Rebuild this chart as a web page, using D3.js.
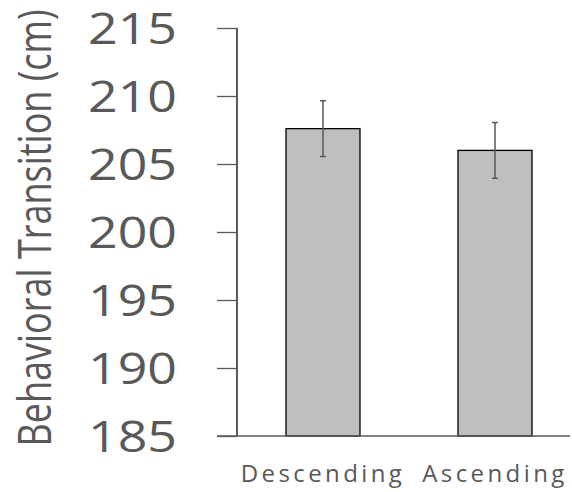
<!DOCTYPE html>
<html>
<head>
<meta charset="utf-8">
<script src="https://cdn.jsdelivr.net/npm/d3@7"></script>
<style>
  body { margin: 0; background: #fff; }
  svg { display: block; }
</style>
</head>
<body>
<div id="chart"></div>
<script>
// Data
const categories = ['Descending', 'Ascending'];
const means = [207.6, 206.0];
const errors = [2.05, 2.05];
const yTicks = [185, 190, 195, 200, 205, 210, 215];

// Dimensions
const W = 572, H = 492;
const margin = { top: 28, right: -9, bottom: 56, left: 237 };
const width = W - margin.left - margin.right;
const height = H - margin.top - margin.bottom;

const data = categories.map((c, i) => ({ cat: c, mean: means[i], err: errors[i] }));

// Scales
const x = d3.scaleBand().domain(categories).range([0, width]).paddingInner(0.57).paddingOuter(0.285);
const y = d3.scaleLinear().domain([185, 215]).range([height, 0]);

const svg = d3.select('#chart').append('svg')
    .attr('width', W)
    .attr('height', H);

const g = svg.append('g')
    .attr('transform', `translate(${margin.left},${margin.top})`);

// Y axis
const yAxis = g.append('g')
    .call(d3.axisLeft(y).tickValues(yTicks).tickSize(20).tickPadding(40));
yAxis.select('.domain').attr('stroke', '#000').attr('stroke-width', 1.3)
    .attr('d', `M0,${height}V0`);
yAxis.selectAll('.tick line').attr('stroke', '#595959').attr('stroke-width', 1.3);
yAxis.selectAll('.tick text')
    .attr('fill', '#595959')
    .attr('dy', '0.36em')
    .attr('textLength', 89)
    .attr('lengthAdjust', 'spacingAndGlyphs')
    .style('font-family', '"Open Sans", sans-serif')
    .style('font-size', '44px');

// Bars
g.selectAll('.bar')
    .data(data)
    .enter().append('rect')
    .attr('class', 'bar')
    .attr('x', d => x(d.cat))
    .attr('y', d => y(d.mean))
    .attr('width', x.bandwidth())
    .attr('height', d => height - y(d.mean))
    .attr('fill', '#bfbfbf')
    .attr('stroke', '#000')
    .attr('stroke-width', 1.3);

// Error bars
const eb = g.selectAll('.err')
    .data(data)
    .enter().append('g')
    .attr('class', 'err')
    .attr('stroke', '#595959')
    .attr('stroke-width', 1.5);
eb.append('line')
    .attr('x1', d => x(d.cat) + x.bandwidth() / 2)
    .attr('x2', d => x(d.cat) + x.bandwidth() / 2)
    .attr('y1', d => y(d.mean + d.err))
    .attr('y2', d => y(d.mean - d.err));
eb.append('line')
    .attr('x1', d => x(d.cat) + x.bandwidth() / 2 - 3)
    .attr('x2', d => x(d.cat) + x.bandwidth() / 2 + 3)
    .attr('y1', d => y(d.mean + d.err))
    .attr('y2', d => y(d.mean + d.err));
eb.append('line')
    .attr('x1', d => x(d.cat) + x.bandwidth() / 2 - 3)
    .attr('x2', d => x(d.cat) + x.bandwidth() / 2 + 3)
    .attr('y1', d => y(d.mean - d.err))
    .attr('y2', d => y(d.mean - d.err));

// X axis baseline
g.append('line')
    .attr('x1', -20)
    .attr('x2', 333)
    .attr('y1', height)
    .attr('y2', height)
    .attr('stroke', '#595959')
    .attr('stroke-width', 1.3);

// X labels
g.selectAll('.xlab')
    .data(categories)
    .enter().append('text')
    .attr('class', 'xlab')
    .attr('x', d => x(d) + x.bandwidth() / 2)
    .attr('y', height + 46)
    .attr('text-anchor', 'middle')
    .attr('fill', '#595959')
    .style('font-family', '"Open Sans", sans-serif')
    .style('font-size', '24px')
    .style('letter-spacing', '3.4px')
    .text(d => d);

// Y title
svg.append('text')
    .attr('transform', 'translate(51,228) rotate(-90)')
    .attr('text-anchor', 'middle')
    .attr('fill', '#595959')
    .style('font-family', '"Open Sans", sans-serif')
    .style('font-size', '46px')
    .attr('textLength', 437)
    .attr('lengthAdjust', 'spacingAndGlyphs')
    .text('Behavioral Transition (cm)');
</script>
</body>
</html>
